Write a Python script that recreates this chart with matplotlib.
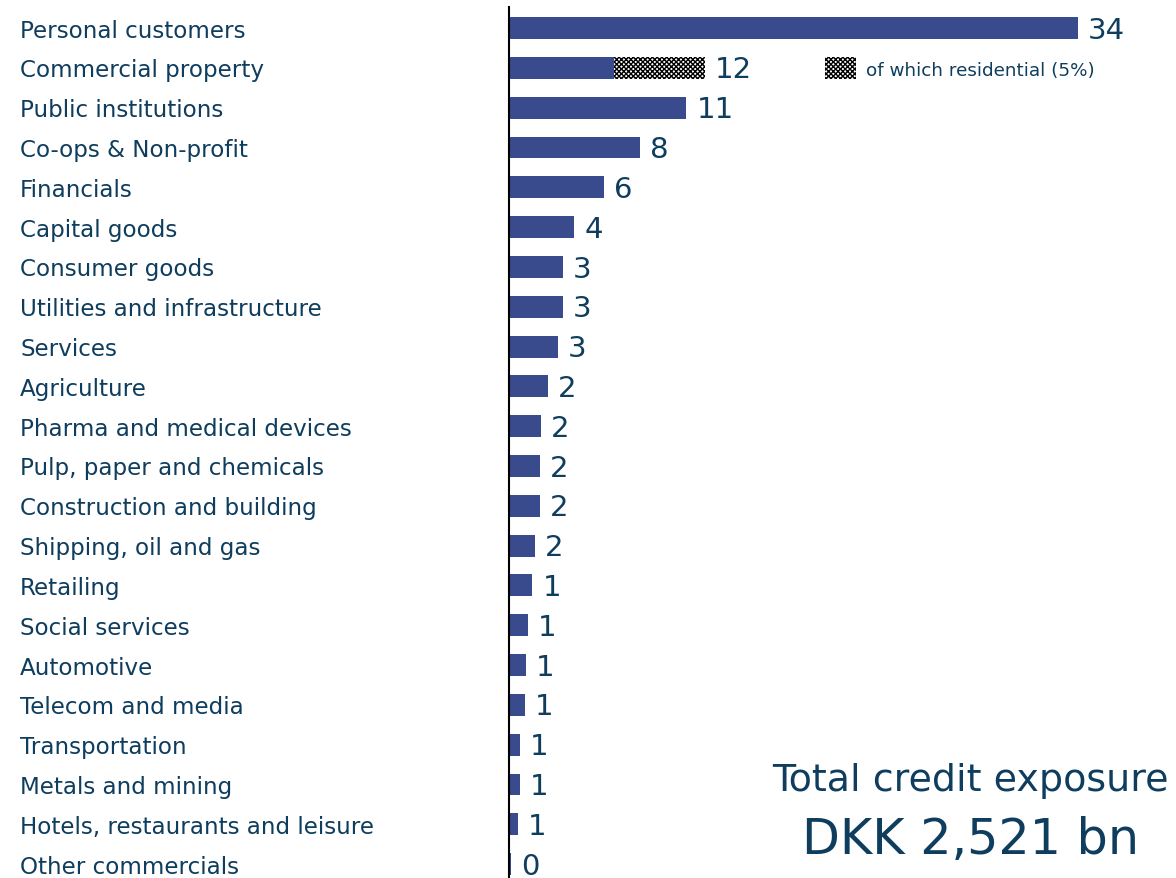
import matplotlib.pyplot as plt
import numpy as np

plt.rcParams['font.family'] = ['DejaVu Sans']
plt.rcParams['hatch.linewidth'] = 1.0

# Credit exposure by sector, % of total
sectors = [
    "Personal customers", "Commercial property", "Public institutions",
    "Co-ops & Non-profit", "Financials", "Capital goods", "Consumer goods",
    "Utilities and infrastructure", "Services", "Agriculture",
    "Pharma and medical devices", "Pulp, paper and chemicals",
    "Construction and building", "Shipping, oil and gas", "Retailing",
    "Social services", "Automotive", "Telecom and media", "Transportation",
    "Metals and mining", "Hotels, restaurants and leisure", "Other commercials",
]
shares = [34.0, 11.7, 10.6, 7.8, 5.7, 3.9, 3.2, 3.2, 2.9, 2.3, 1.9, 1.85,
          1.85, 1.55, 1.4, 1.15, 1.0, 0.95, 0.65, 0.65, 0.55, 0.12]
residential = 5.4   # part of commercial property
total_label = "DKK 2,521 bn"

bar_col = "#394b8c"
txt_col = "#0f3d5e"

fig = plt.figure(figsize=(11.76, 8.79), dpi=100)
ax = fig.add_axes([509 / 1176, 0, 667 / 1176, 1 - 8 / 879])

y = np.arange(len(sectors))
solid = np.array(shares)
solid[1] -= residential

ax.barh(y, solid, height=0.55, color=bar_col)
ax.barh(1, residential, left=solid[1], height=0.55, color="white",
        edgecolor="black", hatch="xxxxxxx", linewidth=0)

for yi, v in zip(y, shares):
    ax.text(v + 0.6, yi + 0.04, f"{v:.0f}", va="center", ha="left",
            fontsize=21, color=txt_col)

ax.set_xlim(0, 667 / 16.74)
ax.set_ylim(21.35, -0.53)

for s in ["top", "right", "bottom"]:
    ax.spines[s].set_visible(False)
ax.spines["left"].set_color("black")
ax.spines["left"].set_linewidth(1.5)
ax.set_xticks([])
ax.set_yticks([])

# sector names on the left
for yi, name in zip(y, sectors):
    ax.annotate(name, xy=(20 / 1176, yi + 0.05), xycoords=("figure fraction", "data"),
                va="center", ha="left", fontsize=16.6, color=txt_col)

# legend box for the hatched part
ax.bar(19.8, 0.55, width=1.85, bottom=0.72, color="white", edgecolor="black",
       hatch="xxxxxxx", linewidth=0)
ax.text(21.3, 1.05, "of which residential (5%)", va="center", ha="left",
        fontsize=13.2, color=txt_col)

fig.text(970 / 1176, 1 - 781 / 879, "Total credit exposure", ha="center",
         va="center", fontsize=27.4, color=txt_col)
fig.text(970 / 1176, 1 - 840 / 879, total_label, ha="center",
         va="center", fontsize=35.5, color=txt_col)

fig.savefig("out.png", dpi=100)
